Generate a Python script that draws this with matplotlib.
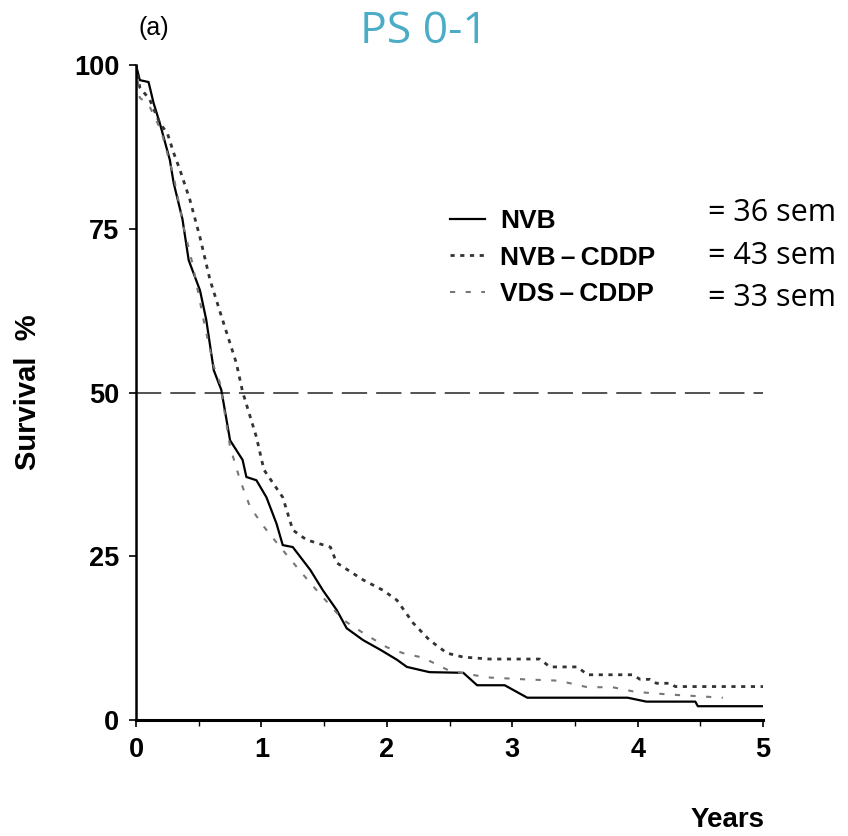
import matplotlib
matplotlib.use("Agg")
import matplotlib.pyplot as plt
from matplotlib.ticker import MultipleLocator

# survival curves (years, %)
nvb_t = [0, 0.03, 0.1, 0.14, 0.19, 0.27, 0.3, 0.37, 0.42, 0.51, 0.56, 0.62, 0.68, 0.75,
         0.85, 0.88, 0.96, 1.04, 1.12, 1.17, 1.25, 1.39, 1.49, 1.6, 1.68, 1.81, 1.95,
         2.08, 2.16, 2.34, 2.61, 2.72, 2.94, 3.12, 3.92, 4.07, 4.46, 4.48, 5.0]
nvb_s = [100, 97.7, 97.4, 94.2, 91.1, 85.5, 82, 76.5, 70.2, 65.6, 61.1, 53.4, 50.4, 42.7,
         39.7, 37.1, 36.6, 34, 30, 26.7, 26.4, 22.9, 19.8, 16.8, 14, 12.2, 10.7,
         9.2, 8.1, 7.3, 7.2, 5.3, 5.3, 3.4, 3.4, 2.8, 2.8, 2.1, 2.1]

cddp_t = [0, 0.03, 0.11, 0.19, 0.25, 0.3, 0.35, 0.43, 0.51, 0.59, 0.69, 0.8, 0.85, 0.96,
          1.02, 1.17, 1.25, 1.36, 1.55, 1.6, 1.81, 1.97, 2.08, 2.21, 2.34, 2.48, 2.61,
          2.82, 3.22, 3.3, 3.52, 3.6, 3.96, 4.02, 4.1, 4.15, 4.26, 4.3, 5.0]
cddp_s = [100, 96.6, 94.7, 91.1, 89.6, 86.6, 84, 79.4, 73.7, 67.2, 61.1, 54.5, 50.1, 43.2,
          38.2, 34, 29, 27.5, 26.4, 24, 21.4, 19.8, 18.3, 14.8, 12.2, 10.2, 9.6,
          9.3, 9.3, 8.1, 8.1, 6.9, 6.9, 6.2, 6.2, 5.6, 5.6, 5.1, 5.1]

vds_t = [0, 0.03, 0.1, 0.2, 0.3, 0.38, 0.45, 0.55, 0.62, 0.67, 0.75, 0.83, 0.91, 1.02,
         1.15, 1.28, 1.39, 1.65, 1.81, 2.0, 2.13, 2.29, 2.5, 2.8, 3.1, 3.37, 3.6, 3.8,
         3.98, 4.24, 4.68]
vds_s = [100, 95, 94, 90, 83, 75.2, 69.7, 60, 54, 51.4, 41.7, 36.6, 32.5, 29.5,
         26.4, 23.4, 20.9, 15.3, 13.3, 11.1, 10.2, 9.5, 7.5, 6.5, 6.2, 6.0, 5.0, 5.0,
         4.3, 3.9, 3.4]

labels = ["NVB", "NVB\u2009\u2013\u2009CDDP", "VDS\u2009\u2013\u2009CDDP"]
medians = ["= 36 sem", "= 43 sem", "= 33 sem"]

arial = ["Liberation Sans", "DejaVu Sans"]

fig = plt.figure(figsize=(8.48, 8.36), dpi=100)
ax = fig.add_axes([0.1604, 0.1388, 0.7394, 0.7834])

ax.axhline(50, color="#444444", lw=1.3, dashes=(14, 5))
l1, = ax.plot(nvb_t, nvb_s, color="black", lw=1.6)
l2, = ax.plot(cddp_t, cddp_s, color="#333333", lw=2.0, dashes=(1.5, 2.0))
l3, = ax.plot(vds_t, vds_s, color="#777777", lw=1.5, dashes=(2.5, 5))

ax.set_xlim(0, 5)
ax.set_ylim(0, 100)
ax.set_xticks([0, 1, 2, 3, 4, 5])
ax.set_yticks([0, 25, 50, 75, 100])
ax.xaxis.set_minor_locator(MultipleLocator(0.5))
ax.tick_params(which="major", direction="out", length=5, width=1.2, pad=7)
ax.tick_params(which="minor", direction="out", length=4, width=1.0)
for lab in ax.get_xticklabels() + ax.get_yticklabels():
    lab.set_fontsize(19.5)
    lab.set_fontweight("bold")
    lab.set_family(arial)

ax.spines["top"].set_visible(False)
ax.spines["right"].set_visible(False)
ax.spines["left"].set_linewidth(1.8)
ax.spines["bottom"].set_linewidth(2.2)

fig.text(0.033, 0.531, "Survival  %", fontsize=21, rotation=90, ha="center",
         va="center", family=arial, weight="bold")
fig.text(0.902, 0.003, "Years", fontsize=20, ha="right", va="bottom",
         family=arial, weight="bold")

leg = ax.legend([l1, l2, l3], labels, loc="upper left", bbox_to_anchor=(0.5008, 0.780),
                frameon=False, handlelength=1.33, labelspacing=0.47, handletextpad=0.57,
                borderaxespad=0, borderpad=0,
                prop=dict(family=arial, weight="bold", size=19))

for i, m in enumerate(medians):
    fig.text(0.835, 0.745 - i * 0.051, m, fontsize=22, family="Open Sans",
             ha="left", va="center")

fig.text(0.181, 0.967, "(a)", fontsize=18, ha="center", va="center", family=arial)
fig.text(0.5, 0.962, "PS 0-1", fontsize=32, color="#4BACC6", ha="center",
         va="center", family="Open Sans")

fig.savefig("out.png", dpi=100)
